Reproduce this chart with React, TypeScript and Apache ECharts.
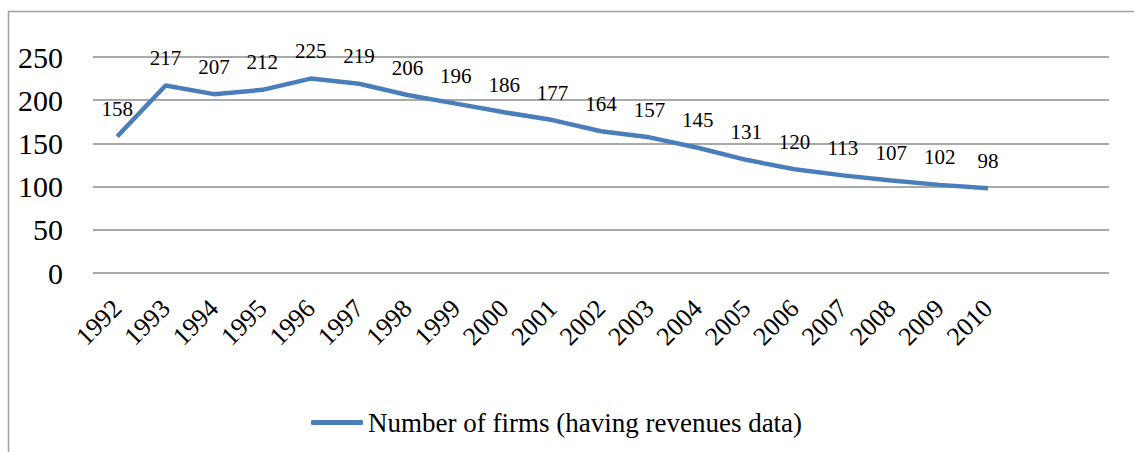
import React, { useEffect, useRef } from "react";
import * as echarts from "echarts";

const years = ["1992","1993","1994","1995","1996","1997","1998","1999","2000","2001","2002","2003","2004","2005","2006","2007","2008","2009","2010"];
const emptySlots = ["", ""];
const firms = [158,217,207,212,225,219,206,196,186,177,164,157,145,131,120,113,107,102,98];
const seriesName = "Number of firms (having revenues data)";
const yMin = 0;
const yMax = 250;
const yStep = 50;

const FONT = '"Liberation Serif", "Times New Roman", serif';

export default function App() {
  const ref = useRef<HTMLDivElement>(null);
  useEffect(() => {
    document.body.style.margin = "0";
    const chart = echarts.init(ref.current!, null, { renderer: "svg" });
    chart.setOption({
      animation: false,
      backgroundColor: "#ffffff",
      textStyle: { fontFamily: FONT },
      graphic: [
        {
          type: "rect",
          shape: { x: 8.5, y: 11.5, width: 1140, height: 460 },
          style: { fill: "none", stroke: "#a0a0a0", lineWidth: 1.5 },
          silent: true,
          z: -1,
        },
      ],
      grid: { left: 93, right: 25, top: 57, bottom: 179 },
      legend: {
        left: 306,
        top: 404,
        icon: "roundRect",
        itemWidth: 52,
        itemHeight: 5,
        itemGap: 4,
        textStyle: { fontFamily: FONT, fontSize: 27, color: "#000" },
        data: [{ name: seriesName, itemStyle: { color: "#4a7ebb" } }],
      },
      xAxis: {
        type: "category",
        data: [...years, ...emptySlots],
        boundaryGap: true,
        axisLine: { show: false },
        axisTick: { show: false },
        axisLabel: {
          rotate: 45,
          interval: 0,
          fontFamily: FONT,
          fontSize: 26,
          color: "#000",
          margin: 31,
        },
      },
      yAxis: {
        type: "value",
        min: yMin,
        max: yMax,
        interval: yStep,
        axisLine: { show: false },
        axisTick: { show: false },
        splitLine: { lineStyle: { color: "#8c8c8c", width: 1.5 } },
        axisLabel: {
          fontFamily: FONT,
          fontSize: 30,
          color: "#000",
          margin: 30,
        },
      },
      series: [
        {
          name: seriesName,
          type: "line",
          data: firms,
          symbol: "circle",
          symbolSize: 0,
          showSymbol: true,
          lineStyle: { color: "#4a7ebb", width: 4.5 },
          itemStyle: { color: "#4a7ebb" },
          label: {
            show: true,
            position: "top",
            distance: 17,
            fontFamily: FONT,
            fontSize: 21,
            color: "#000",
          },
        },
      ],
    });
    return () => chart.dispose();
  }, []);
  return <div ref={ref} style={{ width: 1134, height: 452 }} />;
}
